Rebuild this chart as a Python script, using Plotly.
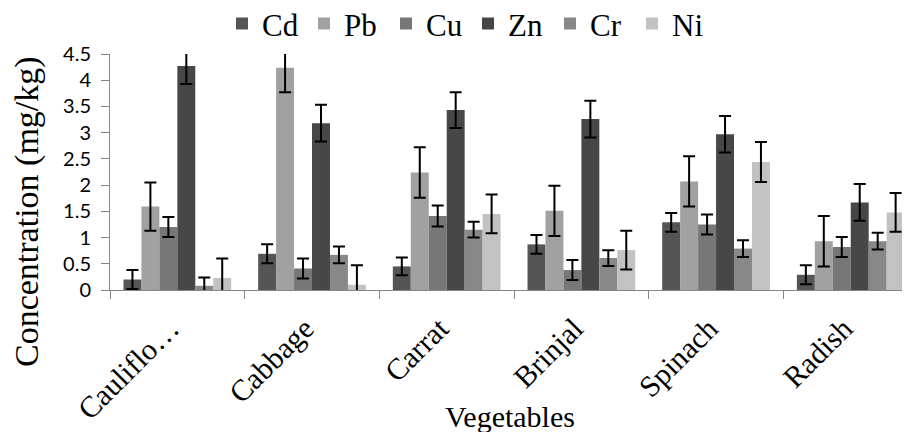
import plotly.graph_objects as go

categories = ["Cauliflo…", "Cabbage", "Carrat", "Brinjal", "Spinach", "Radish"]
series_names = ["Cd", "Pb", "Cu", "Zn", "Cr", "Ni"]
cd = [0.20, 0.69, 0.45, 0.87, 1.29, 0.29]
pb = [1.59, 4.24, 2.24, 1.51, 2.07, 0.93]
cu = [1.20, 0.41, 1.41, 0.38, 1.25, 0.82]
zn = [4.27, 3.18, 3.43, 3.26, 2.97, 1.67]
cr = [0.08, 0.67, 1.15, 0.61, 0.79, 0.93]
ni = [0.23, 0.10, 1.45, 0.76, 2.44, 1.48]
cd_err = [0.18, 0.18, 0.17, 0.18, 0.18, 0.18]
pb_err = [0.46, 0.47, 0.48, 0.48, 0.48, 0.48]
cu_err = [0.19, 0.19, 0.20, 0.19, 0.19, 0.19]
zn_err = [0.34, 0.35, 0.34, 0.35, 0.35, 0.35]
cr_err = [0.16, 0.16, 0.15, 0.15, 0.16, 0.16]
ni_err = [0.37, 0.37, 0.37, 0.37, 0.38, 0.37]
colors = ["#555555", "#a1a1a1", "#777777", "#474747", "#888888", "#c2c2c2"]

values = [cd, pb, cu, zn, cr, ni]
errors = [cd_err, pb_err, cu_err, zn_err, cr_err, ni_err]

fig = go.Figure()
for name, vals, errs, col in zip(series_names, values, errors, colors):
    fig.add_trace(go.Bar(
        x=categories, y=vals, name=name,
        marker=dict(color=col, line=dict(width=0)),
        error_y=dict(type="data", array=errs, visible=True,
                     color="black", thickness=2, width=6),
    ))

serif = "Liberation Serif"
fig.update_layout(
    width=902, height=424,
    margin=dict(l=102, r=0, t=46, b=142, autoexpand=False),
    paper_bgcolor="white", plot_bgcolor="white",
    barmode="group", bargap=0.2, bargroupgap=0,
    legend=dict(orientation="h", xref="paper", yref="paper",
                x=0.4475, y=1.128, xanchor="center", yanchor="middle",
                font=dict(family=serif, size=31, color="black"),
                entrywidth=37, traceorder="normal"),
    xaxis=dict(type="category", range=[-0.5, 5.44], automargin=False,
               showline=True, linecolor="#868686", linewidth=1,
               ticks="outside", tickson="boundaries", ticklen=8,
               tickcolor="#868686", tickangle=-45,
               ticklabelstandoff=8, ticklabelshift=-7,
               tickfont=dict(family=serif, size=30, color="black"),
               showgrid=False),
    yaxis=dict(range=[0, 4.5], dtick=0.5, tick0=0, automargin=False,
               showline=True, linecolor="#868686", linewidth=1,
               ticks="outside", ticklen=8, tickcolor="#868686",
               ticklabelstandoff=6,
               tickfont=dict(family="Lato", size=20, color="black"),
               showgrid=False, zeroline=False),
    annotations=[
        dict(text="Concentration (mg/kg)", textangle=-90,
             xref="paper", yref="paper", x=-0.103, y=0.333,
             xanchor="center", yanchor="middle", showarrow=False,
             font=dict(family=serif, size=34, color="black")),
        dict(text="Vegetables", xref="paper", yref="paper",
             x=0.5, y=-0.534, xanchor="center", yanchor="middle",
             showarrow=False,
             font=dict(family=serif, size=30, color="black")),
    ],
)

fig.write_html("out.html")
